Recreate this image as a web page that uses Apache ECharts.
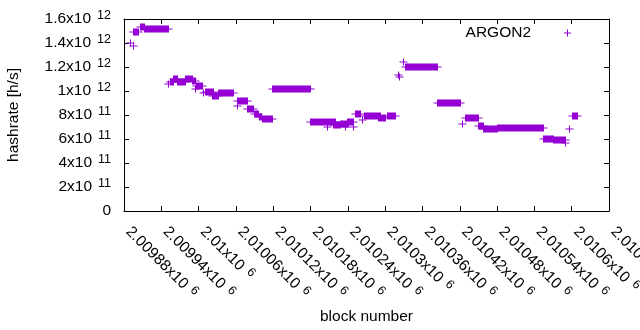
<!DOCTYPE html>
<html>
<head>
<meta charset="utf-8">
<script src="https://cdn.jsdelivr.net/npm/echarts@6/dist/echarts.min.js"></script>
<style>
html,body{margin:0;padding:0;background:#fff;}
#chart{width:640px;height:330px;}
</style>
</head>
<body>
<div id="chart"></div>
<script>
// Each run of identical hashrate readings: first block, last block, hashrate [h/s]
const blockStart = [2009890,2009894,2009894,2009906,2009912,2009951,2009954,2009959,2009965,2009978,2009989,2009994,2009996,2010007,2010010,2010022,2010031,2010062,2010062,2010078,2010089,2010097,2010102,2010118,2010179,2010206,2010208,2010216,2010227,2010235,2010239,2010248,2010251,2010262,2010266,2010288,2010303,2010321,2010323,2010328,2010332,2010383,2010423,2010428,2010449,2010457,2010480,2010554,2010570,2010589,2010596,2010600];
const blockEnd   = [2009890,2009894,2009903,2009912,2009951,2009951,2009959,2009965,2009978,2009989,2009994,2009994,2010005,2010007,2010023,2010031,2010056,2010062,2010078,2010087,2010095,2010101,2010118,2010179,2010206,2010206,2010219,2010227,2010240,2010235,2010248,2010248,2010260,2010262,2010292,2010300,2010316,2010321,2010323,2010328,2010383,2010420,2010423,2010449,2010457,2010480,2010554,2010570,2010589,2010589,2010596,2010608];
const hashrate   = [1.403e12,1.379e12,1.494e12,1.53e12,1.514e12,1.056e12,1.075e12,1.097e12,1.075e12,1.104e12,1.083e12,1.014e12,1.042e12,0.985e12,0.99e12,0.962e12,0.98e12,0.875e12,0.919e12,0.85e12,0.806e12,0.785e12,0.764e12,1.02e12,0.739e12,0.703e12,0.742e12,0.72e12,0.728e12,0.70e12,0.739e12,0.70e12,0.808e12,0.758e12,0.792e12,0.772e12,0.79e12,1.136e12,1.12e12,1.244e12,1.203e12,0.897e12,0.722e12,0.772e12,0.708e12,0.68e12,0.694e12,0.597e12,0.588e12,0.564e12,0.68e12,0.79e12];

const xTickLabels = [['2.00988','6'],['2.00994','6'],['2.01','6'],['2.01006','6'],['2.01012','6'],['2.01018','6'],['2.01024','6'],['2.0103','6'],['2.01036','6'],['2.01042','6'],['2.01048','6'],['2.01054','6'],['2.0106','6'],['2.01066','6']];
const yTickLabels = [['0',''],['2','11'],['4','11'],['6','11'],['8','11'],['1','12'],['1.2','12'],['1.4','12'],['1.6','12']];
const seriesName = 'ARGON2';

const COLOR = '#9400d3';
const FONT = 'Liberation Sans';

const data = blockStart.map((s, i) => [s, blockEnd[i], hashrate[i]]);

function richLabel(pair) {
  if (!pair[1]) return '{m|' + pair[0] + '}';
  return '{m|' + pair[0] + 'x10}{s|' + pair[1] + '}';
}
function makeRich() {
  return {
    m: {fontFamily: FONT, fontSize: 15.5, color: '#000'},
    s: {fontFamily: FONT, fontSize: 12.5, color: '#000', padding: [0, 0, 7, 6]}
  };
}

const chart = echarts.init(document.getElementById('chart'), null, {renderer: 'canvas'});
const axisLine = {show: true, onZero: false, lineStyle: {color: '#000', width: 1}};
const axisTick = {show: true, inside: true, length: 5, lineStyle: {color: '#000', width: 1}};

chart.setOption({
  animation: false,
  backgroundColor: '#fff',
  grid: {left: 124, right: 31, top: 19, bottom: 119, containLabel: false, outerBoundsMode: 'none'},
  legend: {
    data: [{name: seriesName, icon: 'path://M0,3L3,3L3,0L4,0L4,3L7,3L7,4L4,4L4,7L3,7L3,4L0,4Z'}],
    align: 'right',
    right: 64, top: 20,
    itemWidth: 7, itemHeight: 7,
    textStyle: {fontFamily: FONT, fontSize: 15.5, color: '#000', padding: [2, 28, 0, 0]}
  },
  xAxis: [{
    type: 'value', position: 'bottom',
    min: 2009880, max: 2010660, interval: 60,
    axisLine, axisTick, splitLine: {show: false},
    axisLabel: {
      rotate: -45, margin: 14, padding: [0, 0, 0, 6], showMinLabel: true, showMaxLabel: true,
      fontFamily: FONT, fontSize: 15.5, color: '#000',
      formatter: (v) => richLabel(xTickLabels[Math.round((v - 2009880) / 60)]),
      rich: makeRich()
    },
    name: 'block number', nameLocation: 'middle', nameGap: 97,
    nameTextStyle: {fontFamily: FONT, fontSize: 15.5, color: '#000'}
  }, {
    type: 'value', position: 'top',
    min: 2009880, max: 2010660, interval: 60,
    axisLine, axisTick, axisLabel: {show: false}, splitLine: {show: false}
  }],
  yAxis: [{
    type: 'value', position: 'left',
    min: 0, max: 1.6e12, interval: 2e11,
    axisLine, axisTick, splitLine: {show: false},
    axisLabel: {
      margin: 13,
      fontFamily: FONT, fontSize: 15.5, color: '#000',
      formatter: (v) => richLabel(yTickLabels[Math.round(v / 2e11)]),
      rich: makeRich()
    },
    name: 'hashrate [h/s]', nameLocation: 'middle', nameGap: 102,
    nameTextStyle: {fontFamily: FONT, fontSize: 15.5, color: '#000'}
  }, {
    type: 'value', position: 'right',
    min: 0, max: 1.6e12, interval: 2e11,
    axisLine, axisTick, axisLabel: {show: false}, splitLine: {show: false}
  }],
  series: [{
    name: seriesName,
    type: 'custom',
    xAxisIndex: 0, yAxisIndex: 0,
    itemStyle: {color: COLOR},
    encode: {x: [0, 1], y: 2},
    data: data,
    renderItem: function (params, api) {
      const p0 = api.coord([api.value(0), api.value(2)]);
      const p1 = api.coord([api.value(1), api.value(2)]);
      const h = 3.5;
      const x0 = Math.round(p0[0]), x1 = Math.round(p1[0]), y = Math.round(p0[1]);
      return {
        type: 'group',
        children: [
          {type: 'rect', shape: {x: x0, y: y - h, width: x1 - x0 + 1, height: 2 * h}, style: {fill: COLOR}},
          {type: 'rect', shape: {x: x0 - h, y: y - 0.5, width: x1 - x0 + 1 + 2 * h, height: 1}, style: {fill: COLOR}}
        ]
      };
    }
  }]
});
</script>
</body>
</html>
